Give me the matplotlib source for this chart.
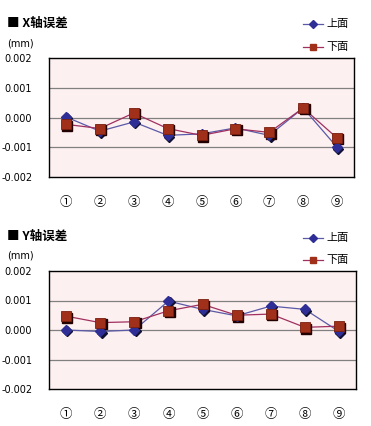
import matplotlib
matplotlib.use("Agg")
import matplotlib.pyplot as plt
from matplotlib.lines import Line2D
import matplotlib.transforms as mtransforms

plt.rcParams['font.family'] = ['Noto Sans CJK SC', 'DejaVu Sans']

categories = ["①", "②", "③", "④", "⑤", "⑥", "⑦", "⑧", "⑨"]
yticks = [-0.002, -0.001, 0.0, 0.001, 0.002]
ytick_labels = ["-0.002", "-0.001", "0.000", "0.001", "0.002"]

x_upper = [0.00002, -0.00046, -0.00015, -0.0006, -0.00055, -0.00035, -0.0006, 0.00032, -0.001]
x_lower = [-0.00023, -0.00037, 0.00015, -0.00037, -0.0006, -0.00038, -0.0005, 0.00032, -0.00069]
y_upper = [0.0, -0.00005, 0.0, 0.00098, 0.0007, 0.00048, 0.00081, 0.0007, -0.00005]
y_lower = [0.00047, 0.00025, 0.00028, 0.00065, 0.00087, 0.0005, 0.00054, 0.00009, 0.00013]

titles = ["■ X轴误差", "■ Y轴误差"]
series_names = ["上面", "下面"]

W, H = 371, 426
fig = plt.figure(figsize=(W / 100, H / 100), dpi=100)
fig.patch.set_facecolor("white")

blue = "#2e2e96"
blue_line = "#5a5aa8"
red = "#a0301a"
red_line = "#a03060"
bg = "#fdf0f0"

panels = [
    dict(box=(49, 58, 305, 119), up=x_upper, lo=x_lower, title=titles[0], ty=23, uy=43, ly=(24, 47)),
    dict(box=(49, 271, 307, 118), up=y_upper, lo=y_lower, title=titles[1], ty=236, uy=256, ly=(238, 260)),
]

for p in panels:
    l, t, w, h = p["box"]
    ax = fig.add_axes([l / W, 1 - (t + h) / H, w / W, h / H])
    ax.set_facecolor(bg)
    xs = list(range(len(categories)))
    for yv in yticks[1:-1]:
        ax.axhline(yv, color="#808080", lw=0.9, zorder=1)
    shadow = mtransforms.offset_copy(ax.transData, fig=fig, x=1.0, y=-1.0, units="points")
    # lines
    ax.plot(xs, p["up"], color=blue_line, lw=0.9, zorder=2)
    ax.plot(xs, p["lo"], color=red_line, lw=0.9, zorder=2)
    # shadows
    ax.plot(xs, p["up"], ls="none", marker="D", ms=5.5, color="#111133", transform=shadow, zorder=3)
    ax.plot(xs, p["lo"], ls="none", marker="s", ms=6.5, color="#220000", transform=shadow, zorder=3)
    ax.plot(xs, p["up"], ls="none", marker="D", ms=5.5, color=blue, mec=blue, zorder=4)
    ax.plot(xs, p["lo"], ls="none", marker="s", ms=6.5, color=red, mec="#7a2010", mew=0.6, zorder=5)
    ax.set_xlim(-0.5, len(categories) - 0.5)
    ax.set_ylim(yticks[0], yticks[-1])
    ax.set_yticks(yticks)
    ax.set_yticklabels(ytick_labels, fontsize=7, family=["DejaVu Sans"])
    ax.set_xticks(xs)
    ax.set_xticklabels(categories, fontsize=9)
    ax.tick_params(length=0, pad=12, axis="y")
    ax.tick_params(length=0, pad=14, axis="x")
    for s in ax.spines.values():
        s.set_color("black")
        s.set_linewidth(1.0)
    fig.text(7 / W, 1 - p["ty"] / H, p["title"], fontsize=9, fontweight="bold", va="center", ha="left")
    fig.text(7 / W, 1 - p["uy"] / H, "(mm)", fontsize=7, va="center", ha="left", family=["DejaVu Sans"])
    # legend
    for (yy, name, mk, mc, lc, ms) in [(p["ly"][0], series_names[0], "D", blue, blue_line, 4.5),
                                        (p["ly"][1], series_names[1], "s", red, red_line, 5)]:
        fy = 1 - yy / H
        fig.add_artist(Line2D([303 / W, 323 / W], [fy, fy], color=lc, lw=0.9,
                              transform=fig.transFigure))
        fig.add_artist(Line2D([313 / W], [fy], marker=mk, ms=ms, color=mc, mec=mc,
                              transform=fig.transFigure, ls="none"))
        fig.text(326 / W, fy, name, fontsize=8, va="center", ha="left")

fig.savefig("out.png", dpi=100, facecolor="white")
